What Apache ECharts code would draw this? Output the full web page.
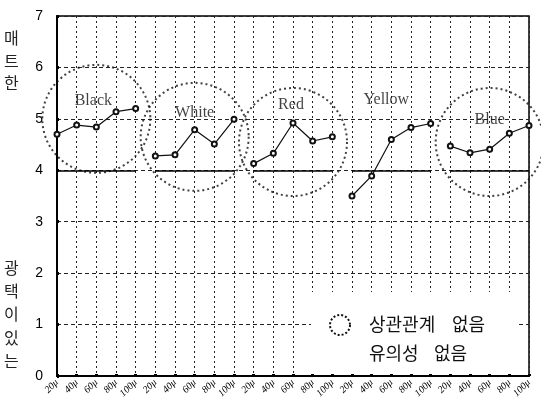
<!DOCTYPE html>
<html>
<head>
<meta charset="utf-8">
<script src="https://cdn.jsdelivr.net/npm/echarts@6/dist/echarts.min.js"></script>
<style>html,body{margin:0;padding:0;background:#fff;}#c{width:541px;height:402px;}</style>
</head>
<body>
<div id="c"></div>
<script>
const sizes = ['20μ', '40μ', '60μ', '80μ', '100μ'];
const groups = ['Black', 'White', 'Red', 'Yellow', 'Blue'];
const blackVals = [4.70, 4.88, 4.84, 5.14, 5.20];
const whiteVals = [4.28, 4.30, 4.79, 4.51, 4.99];
const redVals = [4.13, 4.33, 4.92, 4.57, 4.65];
const yellowVals = [3.50, 3.89, 4.60, 4.83, 4.91];
const blueVals = [4.47, 4.34, 4.41, 4.72, 4.87];
const yTicks = [0, 1, 2, 3, 4, 5, 6, 7];
// dashed circles (no correlation): [category index, value]
const circles = [[2, 5.0], [7, 4.65], [12, 4.55], [22, 4.55]];
// group name labels: [category index, value, name, x offset]
const groupLabels = [[2, 5.36, 'Black', -3], [7, 5.12, 'White', 0], [12, 5.27, 'Red', -2], [17, 5.38, 'Yellow', -5], [22, 4.99, 'Blue', 0]];

const groupVals = [blackVals, whiteVals, redVals, yellowVals, blueVals];
const categories = [];
groups.forEach(g => sizes.forEach(s => categories.push(g + ' ' + s)));

const chart = echarts.init(document.getElementById('c'));
const lineSeries = groupVals.map((vals, gi) => {
  const data = categories.map(() => null);
  vals.forEach((v, i) => { data[gi * 5 + i] = v; });
  return {
    type: 'line',
    data: data,
    symbol: 'emptyCircle',
    symbolSize: 5,
    lineStyle: { color: '#111', width: 1.2 },
    itemStyle: { color: '#111', borderColor: '#111', borderWidth: 1.2 },
    z: 5,
    markLine: {
      silent: true,
      symbol: 'none',
      label: { show: false },
      lineStyle: { color: '#000', type: 'solid', width: 1.5 },
      data: [[{ coord: [gi * 5, 4] }, { coord: [gi * 5 + 4, 4] }]]
    }
  };
});

const cjk = 'Noto Sans CJK KR';
const option = {
  animation: false,
  grid: { left: 57, right: 12, top: 16, bottom: 26, show: true, borderColor: '#000', borderWidth: 1.5 },
  xAxis: {
    type: 'category',
    data: categories,
    boundaryGap: false,
    axisLine: { lineStyle: { color: '#000', width: 2 } },
    axisTick: { show: true, inside: true, length: 2, lineStyle: { color: '#000', width: 3 } },
    axisLabel: {
      interval: 0, rotate: 45, margin: 5,
      color: '#000', fontSize: 10, fontFamily: 'Liberation Serif', fontStyle: 'italic',
      formatter: (v, i) => sizes[i % 5]
    },
    splitLine: { show: true, lineStyle: { color: '#222', type: [2, 3], width: 1 } }
  },
  yAxis: {
    type: 'value',
    min: yTicks[0], max: yTicks[yTicks.length - 1], interval: 1,
    axisLine: { show: true, lineStyle: { color: '#000', width: 2 } },
    axisTick: { show: true, inside: true, length: 2, lineStyle: { color: '#000', width: 3 } },
    axisLabel: { color: '#000', fontSize: 14, fontFamily: 'Liberation Sans', margin: 14 },
    splitLine: { show: true, lineStyle: { color: '#222', type: [4, 3], width: 1 } }
  },
  series: lineSeries.concat([
    {
      type: 'scatter',
      data: circles,
      symbol: 'circle',
      symbolSize: 108,
      silent: true,
      itemStyle: { color: 'rgba(0,0,0,0)', borderColor: '#111', borderWidth: 2, borderType: [2, 3] },
      z: 4
    },
    {
      type: 'scatter',
      data: groupLabels.map(d => ({ value: [d[0], d[1]], name: d[2], label: { offset: [d[3], 0] } })),
      symbolSize: 0,
      silent: true,
      label: {
        show: true, position: 'inside',
        formatter: p => p.name,
        color: '#111', fontSize: 16, fontFamily: 'Liberation Serif'
      },
      z: 6
    }
  ]),
  graphic: [
    { type: 'text', left: 4, top: 27, style: { text: '매\n트\n한', fontSize: 16, lineHeight: 22.5, fill: '#222', fontFamily: cjk, align: 'center' } },
    { type: 'text', left: 4, top: 256, style: { text: '광\n택\n이\n있\n는', fontSize: 16, lineHeight: 23.3, fill: '#222', fontFamily: cjk, align: 'center' } },
    { type: 'rect', z: 1, shape: { x: 311, y: 292, width: 205, height: 82 }, style: { fill: '#fff' } },
    { type: 'circle', z: 2, shape: { cx: 340, cy: 325, r: 10 }, style: { fill: 'none', stroke: '#111', lineWidth: 2, lineDash: [2, 2] } },
    { type: 'text', z: 2, left: 369, top: 315, style: { text: '상관관계', fontSize: 18, fill: '#111', fontFamily: cjk } },
    { type: 'text', z: 2, left: 452, top: 315, style: { text: '없음', fontSize: 18, fill: '#111', fontFamily: cjk } },
    { type: 'text', z: 2, left: 369, top: 344, style: { text: '유의성', fontSize: 18, fill: '#111', fontFamily: cjk } },
    { type: 'text', z: 2, left: 434, top: 344, style: { text: '없음', fontSize: 18, fill: '#111', fontFamily: cjk } }
  ]
};
chart.setOption(option);
</script>
</body>
</html>
